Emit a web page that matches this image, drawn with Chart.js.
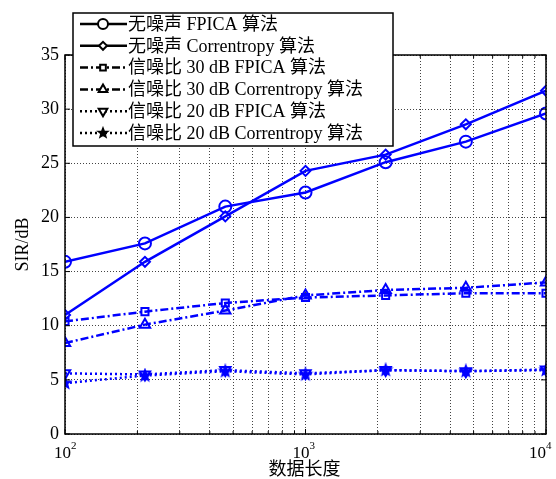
<!DOCTYPE html>
<html>
<head>
<meta charset="utf-8">
<script src="https://cdn.jsdelivr.net/npm/chart.js@4.4.0/dist/chart.umd.min.js"></script>
<style>
  html, body { margin: 0; padding: 0; background: #fff; }
  #wrap { width: 556px; height: 479px; position: relative; }
</style>
</head>
<body>
<div id="wrap"><canvas id="c"></canvas></div>
<script>
// data lengths (log axis) and SIR values
const lengths = [100, 215, 464, 1000, 2154, 4642, 10000];
const fpicaClean = [15.9, 17.6, 21.0, 22.3, 25.1, 27.0, 29.6];
const corrClean  = [11.0, 15.9, 20.1, 24.3, 25.8, 28.6, 31.7];
const fpica30    = [10.4, 11.3, 12.1, 12.6, 12.8, 13.0, 13.0];
const corr30     = [8.4, 10.1, 11.4, 12.8, 13.3, 13.5, 14.0];
const fpica20    = [5.6, 5.5, 5.9, 5.6, 5.9, 5.8, 5.95];
const corr20     = [4.7, 5.4, 5.8, 5.5, 5.9, 5.8, 5.9];

const seriesNames = [
  "无噪声 FPICA 算法",
  "无噪声 Correntropy 算法",
  "信噪比 30 dB FPICA 算法",
  "信噪比 30 dB Correntropy 算法",
  "信噪比 20 dB FPICA 算法",
  "信噪比 20 dB Correntropy 算法"
];
const xTitle = "数据长度";
const yTitle = "SIR/dB";
const xTicks = [100,200,300,400,500,600,700,800,900,1000,2000,3000,4000,5000,6000,7000,8000,9000,10000];
const xLabels = { 100: "2", 1000: "3", 10000: "4" };   // exponents of 10
const yTicks = [0, 5, 10, 15, 20, 25, 30, 35];

const BLUE = "#0000ff";
const FONT = "'Liberation Serif', 'Noto Sans CJK SC', serif";

// pentagram marker (MATLAB 'p')
function makeStar(r, col) {
  const s = r * 2 + 4;
  const cv = document.createElement("canvas");
  cv.width = s; cv.height = s;
  const g = cv.getContext("2d");
  g.translate(s / 2, s / 2);
  g.beginPath();
  for (let i = 0; i < 10; i++) {
    const rr = i % 2 ? r * 0.42 : r;
    const a = -Math.PI / 2 + i * Math.PI / 5;
    g.lineTo(rr * Math.cos(a), rr * Math.sin(a));
  }
  g.closePath();
  g.fillStyle = col;
  g.strokeStyle = col;
  g.lineWidth = 1.5;
  g.fill();
  g.stroke();
  return cv;
}
const starImg = makeStar(6, BLUE);
const starLegend = makeStar(5, "#000");

const styles = [
  { dash: [], pt: "circle", r: 6, rot: 0 },
  { dash: [], pt: "rectRot", r: 5, rot: 0 },
  { dash: [8, 3, 2, 3], pt: "rect", r: 5, rot: 0 },
  { dash: [8, 3, 2, 3], pt: "triangle", r: 6, rot: 0 },
  { dash: [2, 3], pt: "triangle", r: 6, rot: 180 },
  { dash: [2, 3], pt: starImg, r: 6, rot: 0 }
];
const values = [fpicaClean, corrClean, fpica30, corr30, fpica20, corr20];

const datasets = values.map((vals, i) => ({
  label: seriesNames[i],
  data: lengths.map((x, j) => ({ x: x, y: vals[j] })),
  borderColor: BLUE,
  backgroundColor: "transparent",
  borderWidth: 2.5,
  borderDash: styles[i].dash,
  pointStyle: styles[i].pt,
  pointRadius: styles[i].r,
  pointRotation: styles[i].rot,
  pointBorderColor: BLUE,
  pointBackgroundColor: "transparent",
  pointBorderWidth: 2,
  tension: 0
}));

// box around plot, inward ticks, x labels with exponents, x title, legend
const framePlugin = {
  id: "frame",
  afterDatasetsDraw(chart) {
    const { ctx, chartArea: a, scales } = chart;
    ctx.save();
    ctx.strokeStyle = "#000";
    ctx.lineWidth = 1.5;
    ctx.setLineDash([]);
    ctx.strokeRect(a.left, a.top, a.right - a.left, a.bottom - a.top);
    ctx.lineWidth = 1;
    ctx.beginPath();
    yTicks.forEach(v => {
      const y = scales.y.getPixelForValue(v);
      ctx.moveTo(a.left, y); ctx.lineTo(a.left + 5, y);
      ctx.moveTo(a.right, y); ctx.lineTo(a.right - 5, y);
    });
    xTicks.forEach(v => {
      const x = scales.x.getPixelForValue(v);
      const len = xLabels[v] ? 5 : 3;
      ctx.moveTo(x, a.bottom); ctx.lineTo(x, a.bottom - len);
      ctx.moveTo(x, a.top); ctx.lineTo(x, a.top + len);
    });
    ctx.stroke();

    // x tick labels: "10" plus raised exponent (MATLAB nudges the end labels inward)
    const shift = { 100: -11, 1000: -13, 10000: -17 };
    ctx.fillStyle = "#000";
    ctx.textBaseline = "alphabetic";
    ctx.textAlign = "left";
    Object.keys(xLabels).forEach(k => {
      const x0 = scales.x.getPixelForValue(+k) + shift[k];
      ctx.font = "17px " + FONT;
      const wb = ctx.measureText("10").width;
      ctx.fillText("10", x0, a.bottom + 24);
      ctx.font = "11px " + FONT;
      ctx.fillText(xLabels[k], x0 + wb, a.bottom + 14.5);
    });

    ctx.font = "18px " + FONT;
    ctx.textAlign = "center";
    ctx.textBaseline = "middle";
    ctx.fillText(xTitle, (a.left + a.right) / 2 - 1, a.bottom + 36);
    ctx.restore();
  },
  afterDraw(chart) {
    const ctx = chart.ctx;
    const bx = 73, by = 13, bw = 320, bh = 133;
    ctx.save();
    ctx.fillStyle = "#fff";
    ctx.fillRect(bx, by, bw, bh);
    ctx.strokeStyle = "#000";
    ctx.lineWidth = 1.5;
    ctx.strokeRect(bx, by, bw, bh);
    ctx.font = "18px " + FONT;
    ctx.textBaseline = "middle";
    ctx.textAlign = "left";
    chart.data.datasets.forEach((ds, i) => {
      const y = by + 11 + i * 21.8;
      ctx.strokeStyle = "#000";
      ctx.lineWidth = 2.5;
      ctx.setLineDash(ds.borderDash);
      ctx.beginPath();
      ctx.moveTo(80, y); ctx.lineTo(127, y);
      ctx.stroke();
      ctx.setLineDash([]);
      ctx.lineWidth = 2;
      ctx.fillStyle = "#fff";
      const ps = typeof ds.pointStyle === "string" ? ds.pointStyle : starLegend;
      Chart.helpers.drawPoint(ctx, { pointStyle: ps, radius: ds.pointRadius - 1, rotation: ds.pointRotation, borderWidth: 2 }, 103, y);
      ctx.fillStyle = "#000";
      ctx.fillText(ds.label, 128, y + 1);
    });
    ctx.restore();
  }
};

new Chart(document.getElementById("c"), {
  type: "line",
  data: { datasets: datasets },
  options: {
    responsive: true,
    maintainAspectRatio: false,
    animation: false,
    layout: { padding: { top: 55, right: 10, left: 0, bottom: 0 } },
    plugins: { legend: { display: false }, tooltip: { enabled: false } },
    scales: {
      x: {
        type: "logarithmic",
        min: 100, max: 10000,
        afterBuildTicks(s) { s.ticks = xTicks.map(v => ({ value: v })); },
        afterFit(s) { s.height = 45; s.paddingRight = 0; s.paddingLeft = 0; },
        grid: { color: "#444", drawTicks: false, lineWidth: 1 },
        border: { display: false, dash: [1, 2] },
        ticks: { autoSkip: false, maxRotation: 0, padding: 7, callback: () => "" },
        title: { display: false }
      },
      y: {
        min: 0, max: 35,
        afterBuildTicks(s) { s.ticks = yTicks.map(v => ({ value: v })); },
        afterFit(s) { s.width = 65; },
        grid: { color: "#444", drawTicks: false, lineWidth: 1 },
        border: { display: false, dash: [1, 2] },
        ticks: { padding: 6, color: "#000", font: { family: FONT, size: 18 } },
        title: { display: true, text: yTitle, color: "#000", padding: { top: 12, bottom: 0 }, font: { family: FONT, size: 18 } }
      }
    }
  },
  plugins: [framePlugin]
});
</script>
</body>
</html>
